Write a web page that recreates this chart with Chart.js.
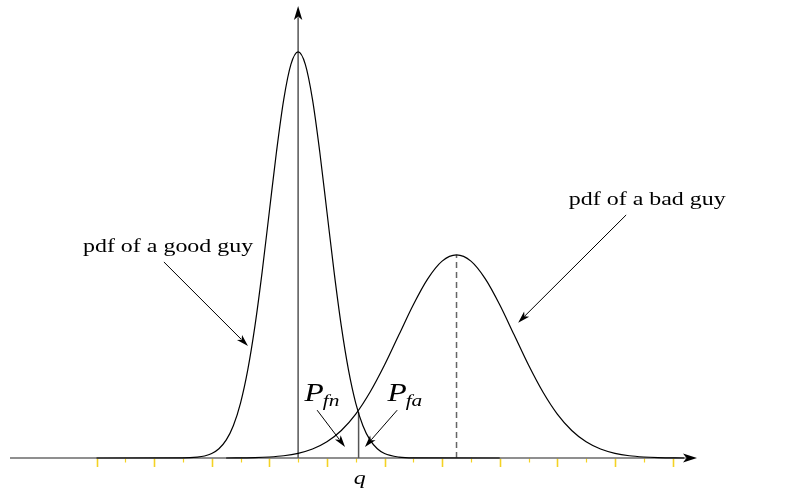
<!DOCTYPE html>
<html>
<head>
<meta charset="utf-8">
<script src="https://cdn.jsdelivr.net/npm/chart.js@4/dist/chart.umd.min.js"></script>
<style>
  html, body { margin: 0; padding: 0; background: #fff; }
  #wrap { width: 786px; height: 493px; }
</style>
</head>
<body>
<div id="wrap"><canvas id="c" width="786" height="493"></canvas></div>
<script>
// Density of the score for a legitimate user ("good guy")
const goodX = [0, 3, 3.5, 3.75, 4, 4.25, 4.5, 4.75, 5, 5.25, 5.5, 5.75, 6, 6.25, 6.5, 6.75, 7,
               7.25, 7.5, 7.75, 8, 8.25, 8.5, 8.75, 9, 9.25, 9.5, 9.75, 10, 10.5, 11, 14];
const goodY = [0, 0.0001, 0.0009, 0.0020, 0.0044, 0.0091, 0.0175, 0.0317, 0.0540, 0.0863, 0.1295,
               0.1826, 0.2420, 0.3011, 0.3521, 0.3867, 0.3990, 0.3867, 0.3521, 0.3011, 0.2420,
               0.1826, 0.1295, 0.0863, 0.0540, 0.0317, 0.0175, 0.0091, 0.0044, 0.0009, 0.0001, 0];

// Density of the score for an impostor ("bad guy")
const badX = [4.5, 5.5, 6, 6.5, 7, 7.5, 8, 8.5, 9, 9.5, 10, 10.5, 11, 11.5, 12, 12.5, 13, 13.5,
              14, 14.5, 15, 15.5, 16, 16.5, 17, 17.5, 18, 18.5, 19, 19.5, 20.4];
const badY = [0, 0.0004, 0.0010, 0.0022, 0.0046, 0.0088, 0.0159, 0.0270, 0.0431, 0.0648, 0.0913,
              0.1210, 0.1506, 0.1760, 0.1934, 0.1995, 0.1934, 0.1760, 0.1506, 0.1210, 0.0913,
              0.0648, 0.0431, 0.0270, 0.0159, 0.0088, 0.0046, 0.0022, 0.0010, 0.0004, 0];

// Axis ticks (every other one is a major tick)
const tickValues = [0, 1, 2, 3, 4, 5, 6, 7, 8, 9, 10, 11, 12, 13, 14, 15, 16, 17, 18, 19, 20];
const goodMean = 7;
const badMean = 12.5;
const badPeak = 0.1995;
const threshold = 9.1;      // decision threshold q
const thresholdTop = 0.045; // where the two densities cross

const toPoints = (xs, ys) => xs.map((x, i) => ({ x, y: ys[i] }));

// Text labels and their pointer arrows, in data coordinates
const labels = {
  good: { text: 'pdf of a good guy', x: -0.47, y: 0.2024, from: [2.34, 0.1926], to: [5.26, 0.110] },
  bad:  { text: 'pdf of a bad guy',  x: 16.4, y: 0.2486, from: [18.39, 0.2388], to: [14.64, 0.133] },
  pfn:  { sub: 'fn', x: 7.22, y: 0.0560, from: [7.66, 0.0470], to: [8.63, 0.0108] },
  pfa:  { sub: 'fa', x: 10.1, y: 0.0560, from: [10.44, 0.0470], to: [9.32, 0.0108] },
  q:    { x: 8.93, y: -0.0255 }
};

const SERIF = '"Liberation Serif", "DejaVu Serif", serif';
const STRETCH = 1.26; // the figure's lettering is set slightly wide

function wideText(ctx, text, x, y, font) {
  ctx.save();
  ctx.font = font;
  ctx.translate(x, y);
  ctx.scale(STRETCH, 1);
  ctx.fillText(text, 0, 0);
  const w = ctx.measureText(text).width * STRETCH;
  ctx.restore();
  return w;
}

function arrow(ctx, x1, y1, x2, y2, len, half) {
  const a = Math.atan2(y2 - y1, x2 - x1);
  ctx.beginPath();
  ctx.moveTo(x1, y1);
  ctx.lineTo(x2 - Math.cos(a) * len * 0.8, y2 - Math.sin(a) * len * 0.8);
  ctx.stroke();
  ctx.beginPath();
  ctx.moveTo(x2, y2);
  ctx.lineTo(x2 - Math.cos(a) * len + Math.sin(a) * half, y2 - Math.sin(a) * len - Math.cos(a) * half);
  ctx.lineTo(x2 - Math.cos(a) * len * 0.75, y2 - Math.sin(a) * len * 0.75);
  ctx.lineTo(x2 - Math.cos(a) * len - Math.sin(a) * half, y2 - Math.sin(a) * len + Math.cos(a) * half);
  ctx.closePath();
  ctx.fill();
}

const axesPlugin = {
  id: 'axes',
  beforeDatasetsDraw(chart) {
    const { ctx, scales: { x, y } } = chart;
    const y0 = y.getPixelForValue(0);
    ctx.save();
    // ticks
    ctx.strokeStyle = '#f4d224';
    tickValues.forEach((t, i) => {
      const px = Math.round(x.getPixelForValue(t)) + 0.5;
      ctx.lineWidth = i % 2 === 0 ? 1.6 : 1.2;
      ctx.beginPath();
      ctx.moveTo(px, y0 + 0.5);
      ctx.lineTo(px, y0 + (i % 2 === 0 ? 9 : 4.5));
      ctx.stroke();
    });
    // horizontal axis
    ctx.strokeStyle = '#6a6a6a';
    ctx.fillStyle = '#000';
    ctx.lineWidth = 1.5;
    arrow(ctx, 10, y0, 697, y0, 14, 4.5);
    // vertical axis through the good-guy mean
    const vx = x.getPixelForValue(goodMean);
    ctx.strokeStyle = '#555';
    arrow(ctx, vx, y0, vx, 6, 14, 4.2);
    ctx.restore();
  },
  afterDatasetsDraw(chart) {
    const { ctx, scales: { x, y } } = chart;
    const P = (v) => [x.getPixelForValue(v[0]), y.getPixelForValue(v[1])];
    ctx.save();
    ctx.fillStyle = '#000';
    ctx.strokeStyle = '#000';
    ctx.lineWidth = 1;
    ctx.textBaseline = 'alphabetic';
    ctx.textAlign = 'left';

    [labels.good, labels.bad].forEach(l => {
      wideText(ctx, l.text, x.getPixelForValue(l.x), y.getPixelForValue(l.y), '19px ' + SERIF);
      const a = P(l.from), b = P(l.to);
      arrow(ctx, a[0], a[1], b[0], b[1], 12, 3.6);
    });

    [labels.pfn, labels.pfa].forEach(l => {
      const px = x.getPixelForValue(l.x), py = y.getPixelForValue(l.y);
      const w = wideText(ctx, 'P', px, py, 'italic 25px ' + SERIF);
      wideText(ctx, l.sub, px + w - 1, py + 5, 'italic 17px ' + SERIF);
      const a = P(l.from), b = P(l.to);
      arrow(ctx, a[0], a[1], b[0], b[1], 12, 3.6);
    });

    wideText(ctx, 'q', x.getPixelForValue(labels.q.x), y.getPixelForValue(labels.q.y), 'italic 19px ' + SERIF);
    ctx.restore();
  }
};

new Chart(document.getElementById('c'), {
  type: 'scatter',
  data: {
    datasets: [
      { data: toPoints(goodX, goodY), showLine: true, borderColor: '#000', borderWidth: 1.2,
        pointRadius: 0, cubicInterpolationMode: 'monotone' },
      { data: toPoints(badX, badY), showLine: true, borderColor: '#000', borderWidth: 1.2,
        pointRadius: 0, cubicInterpolationMode: 'monotone' },
      { data: [{ x: threshold, y: 0 }, { x: threshold, y: thresholdTop }], showLine: true,
        borderColor: '#555', borderWidth: 1.5, pointRadius: 0 },
      { data: [{ x: badMean, y: 0 }, { x: badMean, y: badPeak }], showLine: true,
        borderColor: '#666', borderWidth: 1.5, borderDash: [6, 4], pointRadius: 0 }
    ]
  },
  options: {
    responsive: false,
    animation: false,
    layout: { padding: 0 },
    plugins: { legend: { display: false }, tooltip: { enabled: false } },
    scales: {
      x: { type: 'linear', min: -3.351, max: 23.94, display: false },
      y: { type: 'linear', min: -0.03439, max: 0.45, display: false }
    }
  },
  plugins: [axesPlugin]
});
</script>
</body>
</html>
